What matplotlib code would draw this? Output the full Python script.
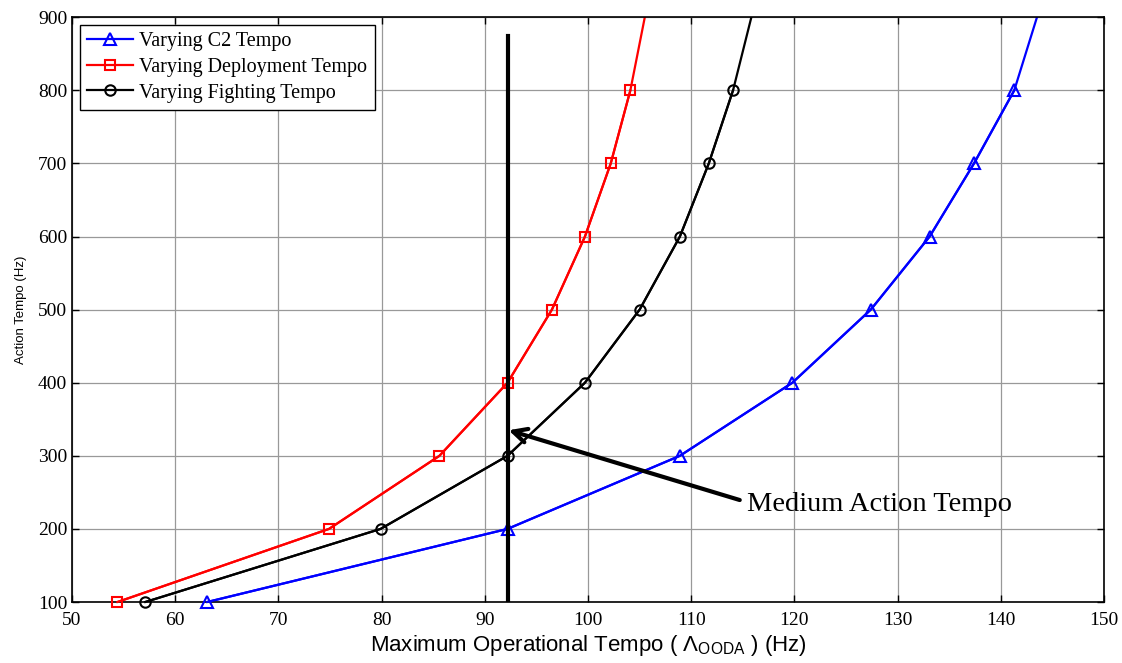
import numpy as np
import matplotlib
matplotlib.use('Agg')
import matplotlib.pyplot as plt

# dados
tempo_acao = [100, 200, 300, 400, 500, 600, 700, 800, 1000]
c2_x = [63.1, 92.2, 108.9, 119.8, 127.4, 133.1, 137.4, 141.3, 145.7]
deploy_x = [54.4, 74.9, 85.6, 92.2, 96.5, 99.7, 102.2, 104.1, 106.9]
fight_x = [57.1, 79.9, 92.2, 99.7, 105.0, 108.9, 111.7, 114.05, 117.6]

medio_x = 92.2
medio_y = [100, 875]

xticks = np.arange(50, 151, 10)
yticks = np.arange(100, 901, 100)

serif = ['Liberation Serif', 'DejaVu Serif']
sans = ['Liberation Sans', 'DejaVu Sans']

fig = plt.figure(figsize=(11.22, 6.63), dpi=100)
ax = fig.add_axes([0.0642, 0.092, 0.9198, 0.882])

series = [
    (c2_x, '#0000ff', '^', 9, 'Varying C2 Tempo'),
    (deploy_x, '#ff0000', 's', 7.5, 'Varying Deployment Tempo'),
    (fight_x, 'black', 'o', 7.5, 'Varying Fighting Tempo'),
]
for xs, cor, mk, ms, nome in series:
    # linha completa (cortada no topo) + marcadores sem corte na borda
    ax.plot(xs, tempo_acao, '-', color=cor, lw=1.6)
    ax.plot(xs[:-1], tempo_acao[:-1], '-' + mk, color=cor, lw=1.6, ms=ms,
            mfc='none', mew=1.5, label=nome, clip_on=False, zorder=3)

ax.plot([medio_x, medio_x], medio_y, color='black', lw=3, zorder=4)

ax.annotate('', xy=(92.3, 335), xytext=(114.7, 239.5),
            arrowprops=dict(arrowstyle='->', lw=3, color='black',
                            mutation_scale=25, shrinkA=0, shrinkB=0))
ax.text(115.4, 234, 'Medium Action Tempo', family=serif, fontsize=20.5,
        va='center', ha='left')

ax.set_xlim(50, 150)
ax.set_ylim(100, 900)
ax.set_xticks(xticks)
ax.set_yticks(yticks)
ax.grid(True, color='#999999', lw=0.9)
ax.tick_params(direction='in', length=5, top=True, right=True, width=1,
               labelsize=14)
ax.tick_params(axis='x', pad=7)
for lab in ax.get_xticklabels() + ax.get_yticklabels():
    lab.set_family(serif)
for s in ax.spines.values():
    s.set_linewidth(1.2)

ax.set_xlabel('Maximum Operational Tempo ( Λ$_\\mathregular{OODA}$ ) (Hz)',
              family=sans, fontsize=16, labelpad=3)
ax.set_ylabel('Action Tempo (Hz)', family=sans, fontsize=9.5, labelpad=8)

leg = ax.legend(loc='upper left', prop={'family': serif, 'size': 14.5},
                fancybox=False, edgecolor='black', framealpha=1,
                borderaxespad=0.4, handlelength=2.3, labelspacing=0.32,
                borderpad=0.35, handletextpad=0.3)
leg.get_frame().set_linewidth(1)

fig.savefig('out.png', dpi=100)
